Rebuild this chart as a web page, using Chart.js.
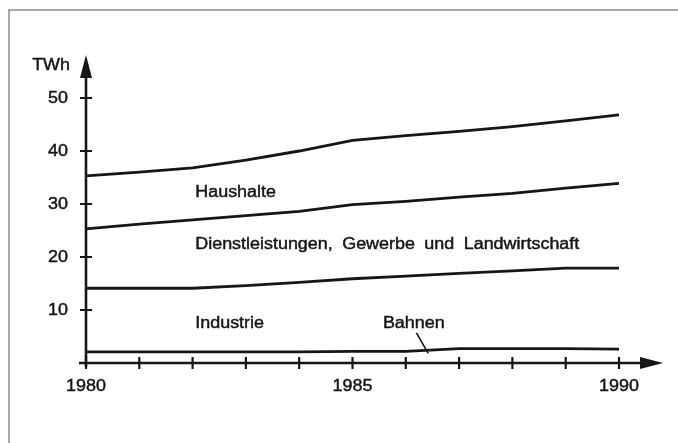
<!DOCTYPE html>
<html>
<head>
<meta charset="utf-8">
<script src="https://cdn.jsdelivr.net/npm/chart.js@4"></script>
<style>
  body { margin: 0; background: #fff; }
  #wrap { width: 678px; height: 443px; }
</style>
</head>
<body>
<div id="wrap"><canvas id="lineChart" width="678" height="443"></canvas></div>
<script>
//DATA (UPPER EDGE OF EACH BAND, TWh, CUMULATIVE)
const years = [1980, 1981, 1982, 1983, 1984, 1985, 1986, 1987, 1988, 1989, 1990];
const haushalte = [35.3, 36.0, 36.8, 38.3, 40.0, 42.0, 42.9, 43.7, 44.6, 45.7, 46.8];
const dienstleistungen = [25.3, 26.2, 27.0, 27.8, 28.6, 29.9, 30.5, 31.3, 32.0, 33.0, 33.9];
const industrie = [14.1, 14.1, 14.1, 14.6, 15.2, 15.9, 16.4, 16.9, 17.4, 17.9, 17.9];
const bahnen = [2.1, 2.1, 2.1, 2.1, 2.1, 2.2, 2.2, 2.7, 2.7, 2.7, 2.6];

const yTicks = [10, 20, 30, 40, 50];
const xLabels = [1980, 1985, 1990];
const unitLabel = "TWh";

//BAND LABELS, PLACED IN DATA UNITS
const bandLabels = [
  { text: "Haushalte", x: 1982.05, y: 31.3 },
  { text: "Dienstleistungen, Gewerbe und Landwirtschaft", x: 1982.05, y: 21.5 },
  { text: "Industrie", x: 1982.05, y: 6.6 },
  { text: "Bahnen", x: 1985.57, y: 6.6 },
];

const INK = "#161616";
const FONT = "16px 'Liberation Sans', Arial, sans-serif";
const STRETCH = 1.12;

function toPoints(arr) {
  return arr.map((v, i) => ({ x: years[i], y: v }));
}

function lineSet(arr) {
  return {
    data: toPoints(arr),
    borderColor: INK,
    borderWidth: 2.8,
    pointRadius: 0,
    tension: 0,
    fill: false,
  };
}

function drawText(ctx, text, x, y, align) {
  //SCANNED FONT IS A BIT WIDER AND HEAVIER THAN ARIAL
  ctx.save();
  ctx.font = FONT;
  ctx.wordSpacing = "4px";
  const w = ctx.measureText(text).width * STRETCH;
  let left = x;
  if (align === "center") left = x - w / 2;
  if (align === "right") left = x - w;
  ctx.translate(left, y);
  ctx.scale(STRETCH, 1);
  ctx.textAlign = "left";
  ctx.lineWidth = 0.45;
  ctx.strokeStyle = INK;
  ctx.fillText(text, 0, 0);
  ctx.strokeText(text, 0, 0);
  ctx.restore();
}

const axesPlugin = {
  id: "axesPlugin",
  afterDatasetsDraw(chart) {
    const ctx = chart.ctx;
    const xs = chart.scales.x;
    const ys = chart.scales.y;
    const x0 = xs.getPixelForValue(years[0]);
    const y0 = ys.getPixelForValue(0);
    const xEnd = xs.getPixelForValue(years[years.length - 1]);
    const yTop = ys.getPixelForValue(50);

    ctx.save();
    //PAGE FRAME
    ctx.strokeStyle = "#8a8a8a";
    ctx.lineWidth = 1.5;
    ctx.beginPath();
    ctx.moveTo(9, 443);
    ctx.lineTo(9, 10);
    ctx.lineTo(678, 10);
    ctx.stroke();

    //AXIS LINES
    ctx.strokeStyle = INK;
    ctx.fillStyle = INK;
    ctx.lineWidth = 2.6;
    ctx.beginPath();
    ctx.moveTo(x0 - 7, y0);
    ctx.lineTo(xEnd + 30, y0);
    ctx.moveTo(x0, y0 + 4);
    ctx.lineTo(x0, yTop - 30);
    ctx.stroke();

    //ARROW HEADS
    const yTip = yTop - 43;
    const xTip = xEnd + 44;
    ctx.beginPath();
    ctx.moveTo(x0, yTip);
    ctx.lineTo(x0 - 6, yTip + 23);
    ctx.lineTo(x0 + 6, yTip + 23);
    ctx.closePath();
    ctx.fill();
    ctx.beginPath();
    ctx.moveTo(xTip, y0);
    ctx.lineTo(xTip - 23, y0 - 6);
    ctx.lineTo(xTip - 23, y0 + 6);
    ctx.closePath();
    ctx.fill();

    //TICK MARKS
    ctx.lineWidth = 2.2;
    ctx.beginPath();
    years.forEach((yr) => {
      const px = xs.getPixelForValue(yr);
      ctx.moveTo(px, y0 - 6);
      ctx.lineTo(px, y0 + 6);
    });
    yTicks.forEach((v) => {
      const py = ys.getPixelForValue(v);
      ctx.moveTo(x0 - 6, py);
      ctx.lineTo(x0 + 6, py);
    });
    ctx.stroke();

    //TICK LABELS
    ctx.textBaseline = "middle";
    yTicks.forEach((v) => {
      drawText(ctx, String(v), x0 - 18, ys.getPixelForValue(v) + 1, "right");
    });
    xLabels.forEach((v) => {
      drawText(ctx, String(v), xs.getPixelForValue(v), y0 + 24, "center");
    });
    ctx.textBaseline = "alphabetic";
    drawText(ctx, unitLabel, x0 - 16, yTip + 15, "right");

    //BAND LABELS
    bandLabels.forEach((l) => {
      drawText(ctx, l.text, xs.getPixelForValue(l.x), ys.getPixelForValue(l.y), "left");
    });

    //LEADER FOR BAHNEN
    ctx.lineWidth = 1.6;
    ctx.beginPath();
    ctx.moveTo(xs.getPixelForValue(1986.2), ys.getPixelForValue(5.7));
    ctx.lineTo(xs.getPixelForValue(1986.42), ys.getPixelForValue(1.8));
    ctx.stroke();
    ctx.restore();
  },
};

function generateLineChart() {
  const config = {
    type: "line",
    data: {
      datasets: [
        lineSet(haushalte),
        lineSet(dienstleistungen),
        lineSet(industrie),
        lineSet(bahnen),
      ],
    },
    options: {
      responsive: false,
      animation: false,
      layout: { padding: { left: 86, right: 59, top: 98, bottom: 80 } },
      plugins: { legend: { display: false }, tooltip: { enabled: false } },
      scales: {
        x: { type: "linear", min: 1980, max: 1990, display: false },
        y: { min: 0, max: 50, display: false },
      },
    },
    plugins: [axesPlugin],
  };
  new Chart(document.getElementById("lineChart"), config);
}

generateLineChart();
</script>
</body>
</html>
